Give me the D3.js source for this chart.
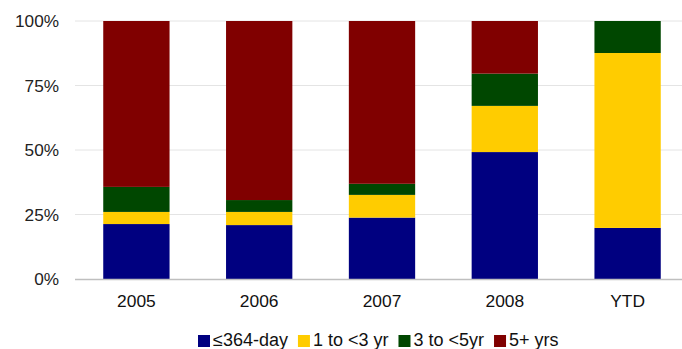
<!DOCTYPE html>
<html>
<head>
<meta charset="utf-8">
<script src="https://cdn.jsdelivr.net/npm/d3@7/dist/d3.min.js"></script>
<style>
  html, body { margin: 0; padding: 0; background: #fff; }
  svg { display: block; font-family: "Liberation Sans", Arial, sans-serif; }
</style>
</head>
<body>
<svg id="chart" width="682" height="349"></svg>
<script>
// Maturity mix by year (percent of total)
const categories = ["2005", "2006", "2007", "2008", "YTD"];
const seriesNames = ["≤364-day", "1 to <3 yr", "3 to <5yr", "5+ yrs"];
const shortTerm  = [21.3, 20.9, 23.8, 49.2, 19.8];
const oneToThree = [4.7, 5.1, 8.8, 17.9, 67.8];
const threeToFive = [9.7, 4.6, 4.3, 12.5, 12.4];
const fivePlus   = [64.3, 69.4, 63.1, 20.4, 0];
const yTicks = [0, 25, 50, 75, 100];
const colors = ["#000080", "#ffcc00", "#004700", "#800000"];

const svg = d3.select("#chart");
const margin = { left: 75, right: -7, top: 21, bottom: 70 };
const W = 682, H = 349;
const x0 = margin.left, x1 = W - margin.right;
const yTop = margin.top, yBot = H - margin.bottom;

const rows = categories.map((c, i) => ({
  cat: c,
  s0: shortTerm[i], s1: oneToThree[i], s2: threeToFive[i], s3: fivePlus[i]
}));
const keys = ["s0", "s1", "s2", "s3"];
const stacked = d3.stack().keys(keys)(rows);

const x = d3.scaleBand().domain(categories).range([x0, x1]).paddingInner(0.46).paddingOuter(0.23);
const y = d3.scaleLinear().domain([0, 100]).range([yBot, yTop]);

// gridlines
svg.append("g").selectAll("line").data(yTicks.filter(t => t > 0)).join("line")
  .attr("x1", x0).attr("x2", W)
  .attr("y1", d => y(d)).attr("y2", d => y(d))
  .attr("stroke", "#e4e4e4").attr("stroke-width", 1);

// bars
svg.append("g").selectAll("g").data(stacked).join("g")
  .attr("fill", (d, i) => colors[i])
  .selectAll("rect").data(d => d).join("rect")
  .attr("x", d => x(d.data.cat))
  .attr("width", x.bandwidth())
  .attr("y", d => y(d[1]))
  .attr("height", d => y(d[0]) - y(d[1]));

// baseline
svg.append("line").attr("x1", x0).attr("x2", W)
  .attr("y1", yBot + 0.5).attr("y2", yBot + 0.5)
  .attr("stroke", "#bfbfbf").attr("stroke-width", 1.5);

// y axis labels
const yAxis = d3.axisLeft(y).tickValues(yTicks).tickFormat(d => d + "%").tickSize(0).tickPadding(0);
const yg = svg.append("g").attr("transform", `translate(${x0 - 16},0)`).call(yAxis);
yg.select(".domain").remove();
yg.selectAll("text").attr("font-size", 17.2).attr("fill", "#222").attr("font-family", "Liberation Sans, Arial, sans-serif");

// x axis labels
const xAxis = d3.axisBottom(x).tickSize(0).tickPadding(0);
const xg = svg.append("g").attr("transform", `translate(0,${yBot + 16})`).call(xAxis);
xg.select(".domain").remove();
xg.selectAll("text").attr("font-size", 17.4).attr("fill", "#111").attr("font-family", "Liberation Sans, Arial, sans-serif");

// legend
const legend = svg.append("g").attr("transform", "translate(198,334)");
let lx = 0;
seriesNames.forEach((name, i) => {
  const g = legend.append("g").attr("transform", `translate(${lx},0)`);
  g.append("rect").attr("x", 0).attr("y", 1).attr("width", 12).attr("height", 12).attr("fill", colors[i]);
  const t = g.append("text").attr("x", 15).attr("y", 11.5).attr("font-size", 18).attr("fill", "#111").text(name);
  lx += 15 + t.node().getComputedTextLength() + 10;
});
</script>
</body>
</html>
